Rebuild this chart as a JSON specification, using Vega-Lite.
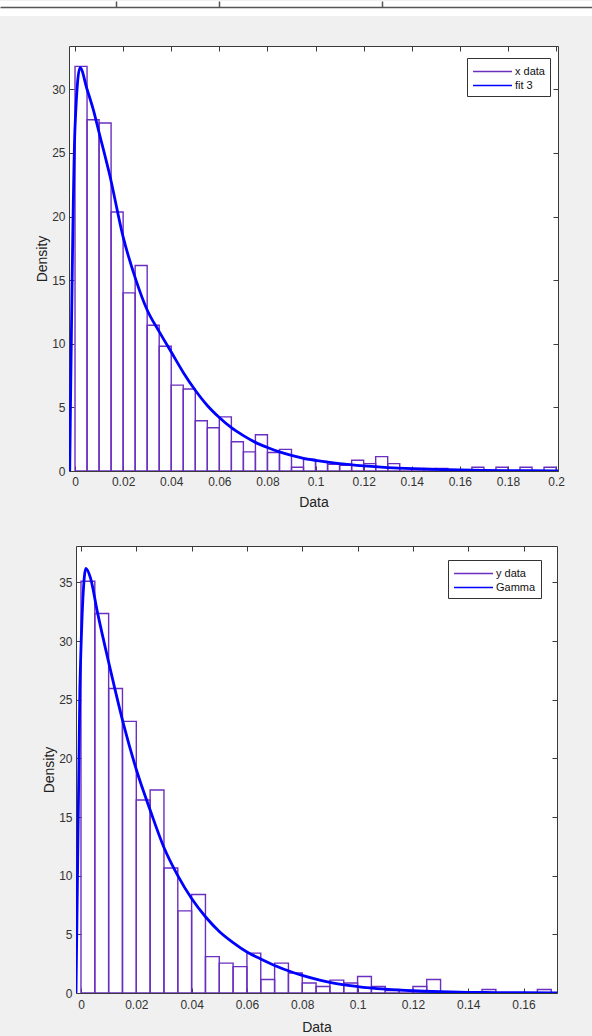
{
  "$schema": "https://vega.github.io/schema/vega-lite/v6.json",
  "background": "#f0f0f0",
  "padding": {"left": 0, "top": 0, "right": 0, "bottom": 8},
  "config": {
    "font": "Liberation Sans",
    "view": {"fill": "white", "stroke": "#3a3a3a", "strokeWidth": 1},
    "axis": {"grid": false, "domain": false, "tickColor": "#3a3a3a", "tickSize": -5, "tickWidth": 1,
             "labelColor": "#333333", "labelFontSize": 12, "labelFont": "Liberation Sans",
             "titleColor": "#222222", "titleFontSize": 14, "titleFontWeight": "normal", "titleFont": "Liberation Sans"},
    "legend": {"orient": "none", "title": null, "symbolType": "M-1,0H4.2", "symbolSize": 225, "fillColor": "white",
               "strokeColor": "#333333", "padding": 5, "labelFontSize": 11, "labelColor": "#111111",
               "rowPadding": 0, "labelOffset": 26, "labelFont": "Liberation Sans"}
  },
  "datasets": {
    "hist1": [
      {"lo": 0.000, "hi": 0.005, "density": 31.8, "series": "x data"},
      {"lo": 0.005, "hi": 0.010, "density": 27.6, "series": "x data"},
      {"lo": 0.010, "hi": 0.015, "density": 27.35, "series": "x data"},
      {"lo": 0.015, "hi": 0.020, "density": 20.35, "series": "x data"},
      {"lo": 0.020, "hi": 0.025, "density": 14.0, "series": "x data"},
      {"lo": 0.025, "hi": 0.030, "density": 16.15, "series": "x data"},
      {"lo": 0.030, "hi": 0.035, "density": 11.45, "series": "x data"},
      {"lo": 0.035, "hi": 0.040, "density": 9.8, "series": "x data"},
      {"lo": 0.040, "hi": 0.045, "density": 6.75, "series": "x data"},
      {"lo": 0.045, "hi": 0.050, "density": 6.45, "series": "x data"},
      {"lo": 0.050, "hi": 0.055, "density": 3.95, "series": "x data"},
      {"lo": 0.055, "hi": 0.060, "density": 3.4, "series": "x data"},
      {"lo": 0.060, "hi": 0.065, "density": 4.25, "series": "x data"},
      {"lo": 0.065, "hi": 0.070, "density": 2.3, "series": "x data"},
      {"lo": 0.070, "hi": 0.075, "density": 1.5, "series": "x data"},
      {"lo": 0.075, "hi": 0.080, "density": 2.85, "series": "x data"},
      {"lo": 0.080, "hi": 0.085, "density": 1.45, "series": "x data"},
      {"lo": 0.085, "hi": 0.090, "density": 1.7, "series": "x data"},
      {"lo": 0.090, "hi": 0.095, "density": 0.3, "series": "x data"},
      {"lo": 0.095, "hi": 0.100, "density": 0.9, "series": "x data"},
      {"lo": 0.100, "hi": 0.105, "density": 0.76, "series": "x data"},
      {"lo": 0.105, "hi": 0.110, "density": 0.52, "series": "x data"},
      {"lo": 0.110, "hi": 0.115, "density": 0.45, "series": "x data"},
      {"lo": 0.115, "hi": 0.120, "density": 0.84, "series": "x data"},
      {"lo": 0.120, "hi": 0.125, "density": 0.58, "series": "x data"},
      {"lo": 0.125, "hi": 0.130, "density": 1.13, "series": "x data"},
      {"lo": 0.130, "hi": 0.135, "density": 0.58, "series": "x data"},
      {"lo": 0.135, "hi": 0.140, "density": 0.21, "series": "x data"},
      {"lo": 0.140, "hi": 0.145, "density": 0.21, "series": "x data"},
      {"lo": 0.145, "hi": 0.150, "density": 0.21, "series": "x data"},
      {"lo": 0.150, "hi": 0.155, "density": 0.21, "series": "x data"},
      {"lo": 0.155, "hi": 0.160, "density": 0, "series": "x data"},
      {"lo": 0.160, "hi": 0.165, "density": 0, "series": "x data"},
      {"lo": 0.165, "hi": 0.170, "density": 0.3, "series": "x data"},
      {"lo": 0.170, "hi": 0.175, "density": 0, "series": "x data"},
      {"lo": 0.175, "hi": 0.180, "density": 0.3, "series": "x data"},
      {"lo": 0.180, "hi": 0.185, "density": 0, "series": "x data"},
      {"lo": 0.185, "hi": 0.190, "density": 0.3, "series": "x data"},
      {"lo": 0.190, "hi": 0.195, "density": 0, "series": "x data"},
      {"lo": 0.195, "hi": 0.200, "density": 0.3, "series": "x data"}
    ],
    "fit1": [
      {"x": -0.0022, "density": 0, "series": "fit 3"},
      {"x": 0.0000, "density": 27.0, "series": "fit 3"},
      {"x": 0.0021, "density": 31.7, "series": "fit 3"},
      {"x": 0.005, "density": 30.0, "series": "fit 3"},
      {"x": 0.0076, "density": 28.4, "series": "fit 3"},
      {"x": 0.010, "density": 26.6, "series": "fit 3"},
      {"x": 0.0145, "density": 23.2, "series": "fit 3"},
      {"x": 0.020, "density": 18.4, "series": "fit 3"},
      {"x": 0.025, "density": 15.2, "series": "fit 3"},
      {"x": 0.030, "density": 12.65, "series": "fit 3"},
      {"x": 0.035, "density": 10.95, "series": "fit 3"},
      {"x": 0.040, "density": 9.35, "series": "fit 3"},
      {"x": 0.045, "density": 7.75, "series": "fit 3"},
      {"x": 0.050, "density": 6.35, "series": "fit 3"},
      {"x": 0.055, "density": 5.15, "series": "fit 3"},
      {"x": 0.060, "density": 4.2, "series": "fit 3"},
      {"x": 0.065, "density": 3.4, "series": "fit 3"},
      {"x": 0.070, "density": 2.78, "series": "fit 3"},
      {"x": 0.075, "density": 2.25, "series": "fit 3"},
      {"x": 0.080, "density": 1.85, "series": "fit 3"},
      {"x": 0.085, "density": 1.5, "series": "fit 3"},
      {"x": 0.090, "density": 1.22, "series": "fit 3"},
      {"x": 0.095, "density": 1.0, "series": "fit 3"},
      {"x": 0.100, "density": 0.84, "series": "fit 3"},
      {"x": 0.110, "density": 0.58, "series": "fit 3"},
      {"x": 0.120, "density": 0.4, "series": "fit 3"},
      {"x": 0.130, "density": 0.27, "series": "fit 3"},
      {"x": 0.140, "density": 0.18, "series": "fit 3"},
      {"x": 0.150, "density": 0.12, "series": "fit 3"},
      {"x": 0.160, "density": 0.08, "series": "fit 3"},
      {"x": 0.170, "density": 0.05, "series": "fit 3"},
      {"x": 0.180, "density": 0.03, "series": "fit 3"},
      {"x": 0.190, "density": 0.02, "series": "fit 3"},
      {"x": 0.2008, "density": 0.01, "series": "fit 3"}
    ],
    "hist2": [
      {"lo": 0.000, "hi": 0.005, "density": 35.1, "series": "y data"},
      {"lo": 0.005, "hi": 0.010, "density": 32.35, "series": "y data"},
      {"lo": 0.010, "hi": 0.015, "density": 25.95, "series": "y data"},
      {"lo": 0.015, "hi": 0.020, "density": 23.15, "series": "y data"},
      {"lo": 0.020, "hi": 0.025, "density": 16.45, "series": "y data"},
      {"lo": 0.025, "hi": 0.030, "density": 17.3, "series": "y data"},
      {"lo": 0.030, "hi": 0.035, "density": 10.65, "series": "y data"},
      {"lo": 0.035, "hi": 0.040, "density": 7.0, "series": "y data"},
      {"lo": 0.040, "hi": 0.045, "density": 8.4, "series": "y data"},
      {"lo": 0.045, "hi": 0.050, "density": 3.1, "series": "y data"},
      {"lo": 0.050, "hi": 0.055, "density": 2.55, "series": "y data"},
      {"lo": 0.055, "hi": 0.060, "density": 2.25, "series": "y data"},
      {"lo": 0.060, "hi": 0.065, "density": 3.4, "series": "y data"},
      {"lo": 0.065, "hi": 0.070, "density": 1.15, "series": "y data"},
      {"lo": 0.070, "hi": 0.075, "density": 2.55, "series": "y data"},
      {"lo": 0.075, "hi": 0.080, "density": 1.7, "series": "y data"},
      {"lo": 0.080, "hi": 0.085, "density": 0.85, "series": "y data"},
      {"lo": 0.085, "hi": 0.090, "density": 0.55, "series": "y data"},
      {"lo": 0.090, "hi": 0.095, "density": 1.1, "series": "y data"},
      {"lo": 0.095, "hi": 0.100, "density": 0.85, "series": "y data"},
      {"lo": 0.100, "hi": 0.105, "density": 1.4, "series": "y data"},
      {"lo": 0.105, "hi": 0.110, "density": 0.55, "series": "y data"},
      {"lo": 0.110, "hi": 0.115, "density": 0.2, "series": "y data"},
      {"lo": 0.115, "hi": 0.120, "density": 0.2, "series": "y data"},
      {"lo": 0.120, "hi": 0.125, "density": 0.55, "series": "y data"},
      {"lo": 0.125, "hi": 0.130, "density": 1.15, "series": "y data"},
      {"lo": 0.130, "hi": 0.135, "density": 0, "series": "y data"},
      {"lo": 0.135, "hi": 0.140, "density": 0, "series": "y data"},
      {"lo": 0.140, "hi": 0.145, "density": 0, "series": "y data"},
      {"lo": 0.145, "hi": 0.150, "density": 0.3, "series": "y data"},
      {"lo": 0.150, "hi": 0.155, "density": 0, "series": "y data"},
      {"lo": 0.155, "hi": 0.160, "density": 0, "series": "y data"},
      {"lo": 0.160, "hi": 0.165, "density": 0, "series": "y data"},
      {"lo": 0.165, "hi": 0.170, "density": 0.3, "series": "y data"}
    ],
    "fit2": [
      {"x": -0.0018, "density": 0, "series": "Gamma"},
      {"x": -0.0004, "density": 26.0, "series": "Gamma"},
      {"x": 0.0018, "density": 36.2, "series": "Gamma"},
      {"x": 0.0034, "density": 35.4, "series": "Gamma"},
      {"x": 0.006, "density": 32.4, "series": "Gamma"},
      {"x": 0.010, "density": 28.2, "series": "Gamma"},
      {"x": 0.0154, "density": 22.9, "series": "Gamma"},
      {"x": 0.0202, "density": 18.9, "series": "Gamma"},
      {"x": 0.025, "density": 15.6, "series": "Gamma"},
      {"x": 0.030, "density": 12.4, "series": "Gamma"},
      {"x": 0.035, "density": 10.0, "series": "Gamma"},
      {"x": 0.040, "density": 8.05, "series": "Gamma"},
      {"x": 0.045, "density": 6.5, "series": "Gamma"},
      {"x": 0.050, "density": 5.25, "series": "Gamma"},
      {"x": 0.055, "density": 4.3, "series": "Gamma"},
      {"x": 0.060, "density": 3.5, "series": "Gamma"},
      {"x": 0.065, "density": 2.9, "series": "Gamma"},
      {"x": 0.070, "density": 2.35, "series": "Gamma"},
      {"x": 0.0767, "density": 1.75, "series": "Gamma"},
      {"x": 0.080, "density": 1.5, "series": "Gamma"},
      {"x": 0.0863, "density": 1.1, "series": "Gamma"},
      {"x": 0.090, "density": 0.9, "series": "Gamma"},
      {"x": 0.100, "density": 0.55, "series": "Gamma"},
      {"x": 0.110, "density": 0.33, "series": "Gamma"},
      {"x": 0.120, "density": 0.19, "series": "Gamma"},
      {"x": 0.130, "density": 0.11, "series": "Gamma"},
      {"x": 0.140, "density": 0.06, "series": "Gamma"},
      {"x": 0.150, "density": 0.035, "series": "Gamma"},
      {"x": 0.160, "density": 0.02, "series": "Gamma"},
      {"x": 0.1721, "density": 0.01, "series": "Gamma"}
    ]
  },
  "spacing": 35,
  "resolve": {
    "scale": {"x": "independent", "y": "independent", "stroke": "independent"},
    "legend": {"stroke": "independent"}
  },
  "vconcat": [
    {
      "spacing": 29,
      "vconcat": [
        {
          "concat": [
            {
              "width": 1,
              "height": 1,
              "view": {"fill": null, "stroke": null},
              "data": {"values": []},
              "mark": {"type": "point", "opacity": 0}
            },
            {
              "width": 592,
              "height": 15,
              "view": {"fill": "white", "stroke": null},
              "data": {"values": []},
              "mark": {"type": "rule"},
              "encoding": {
                "x": {"field": "p", "type": "quantitative",
                      "scale": {"domain": [0, 592], "nice": false, "zero": false},
                      "axis": {"orient": "top", "offset": -6, "domain": true, "domainColor": "#555555", "domainWidth": 1.5,
                               "ticks": true, "tickSize": 6, "tickColor": "#555555", "tickWidth": 1.5,
                               "values": [116, 219, 382], "labels": false, "title": null}}
              }
            }
          ],
          "columns": 2,
          "spacing": -70,
          "bounds": "flush",
          "align": "none"
        },
        {
          "width": 489,
          "height": 425,
          "resolve": {"axis": {"x": "independent", "y": "independent"}},
          "layer": [
            {
              "data": {"name": "hist1"},
              "mark": {"type": "bar", "fill": "transparent", "strokeWidth": 1.4, "clip": true},
              "encoding": {
                "x": {"field": "lo", "type": "quantitative",
                      "scale": {"domain": [-0.0025, 0.2008], "nice": false, "zero": false},
                      "axis": {"orient": "bottom", "values": [0, 0.02, 0.04, 0.06, 0.08, 0.1, 0.12, 0.14, 0.16, 0.18, 0.2], "format": "~g", "title": "Data", "labelPadding": 10, "titlePadding": 8}},
                "x2": {"field": "hi"},
                "y": {"field": "density", "type": "quantitative",
                      "scale": {"domain": [0, 33.4], "nice": false},
                      "axis": {"orient": "left", "values": [0, 5, 10, 15, 20, 25, 30], "title": "Density", "labelPadding": 9, "titlePadding": 2}},
                "y2": {"datum": 0},
                "stroke": {"field": "series", "type": "nominal",
                           "scale": {"domain": ["x data", "fit 3"], "range": ["#6b2fc0", "#0000ff"]},
                           "legend": {"legendX": 398, "legendY": 57,
                                      "encode": {"symbols": {"update": {"strokeWidth": {"signal": "datum.value == 'fit 3' ? 2.8 : 1.5"}}}}}}
              }
            },
            {
              "data": {"name": "fit1"},
              "mark": {"type": "line", "interpolate": "monotone", "strokeWidth": 2.8, "clip": true},
              "encoding": {
                "x": {"field": "x", "type": "quantitative",
                      "axis": {"orient": "top", "values": [0, 0.02, 0.04, 0.06, 0.08, 0.1, 0.12, 0.14, 0.16, 0.18, 0.2], "labels": false, "title": null}},
                "y": {"field": "density", "type": "quantitative",
                      "axis": {"orient": "right", "values": [0, 5, 10, 15, 20, 25, 30], "labels": false, "title": null}},
                "stroke": {"field": "series", "type": "nominal"}
              }
            }
          ]
        }
      ]
    },
    {
      "hconcat": [
        {
          "width": 1,
          "height": 1,
          "view": {"fill": null, "stroke": null},
          "data": {"values": []},
          "mark": {"type": "point", "opacity": 0}
        },
        {
          "width": 481,
          "height": 447,
          "resolve": {"axis": {"x": "independent", "y": "independent"}},
          "layer": [
            {
              "data": {"name": "hist2"},
              "mark": {"type": "bar", "fill": "transparent", "strokeWidth": 1.4, "clip": true},
              "encoding": {
                "x": {"field": "lo", "type": "quantitative",
                      "scale": {"domain": [-0.0018, 0.1721], "nice": false, "zero": false},
                      "axis": {"orient": "bottom", "values": [0, 0.02, 0.04, 0.06, 0.08, 0.1, 0.12, 0.14, 0.16], "format": "~g", "title": "Data", "labelPadding": 11, "titlePadding": 10}},
                "x2": {"field": "hi"},
                "y": {"field": "density", "type": "quantitative",
                      "scale": {"domain": [0, 38.1], "nice": false},
                      "axis": {"orient": "left", "values": [0, 5, 10, 15, 20, 25, 30, 35], "title": "Density", "labelPadding": 9, "titlePadding": 2}},
                "y2": {"datum": 0},
                "stroke": {"field": "series", "type": "nominal",
                           "scale": {"domain": ["y data", "Gamma"], "range": ["#6b2fc0", "#0000ff"]},
                           "legend": {"legendX": 379, "legendY": 14,
                                      "encode": {"symbols": {"update": {"strokeWidth": {"signal": "datum.value == 'Gamma' ? 2.8 : 1.5"}}}}}}
              }
            },
            {
              "data": {"name": "fit2"},
              "mark": {"type": "line", "interpolate": "monotone", "strokeWidth": 2.8, "clip": true},
              "encoding": {
                "x": {"field": "x", "type": "quantitative",
                      "axis": {"orient": "top", "values": [0, 0.02, 0.04, 0.06, 0.08, 0.1, 0.12, 0.14, 0.16], "labels": false, "title": null}},
                "y": {"field": "density", "type": "quantitative",
                      "axis": {"orient": "right", "values": [0, 5, 10, 15, 20, 25, 30, 35], "labels": false, "title": null}},
                "stroke": {"field": "series", "type": "nominal"}
              }
            }
          ]
        }
      ],
      "spacing": 6,
      "bounds": "flush"
    }
  ]
}
